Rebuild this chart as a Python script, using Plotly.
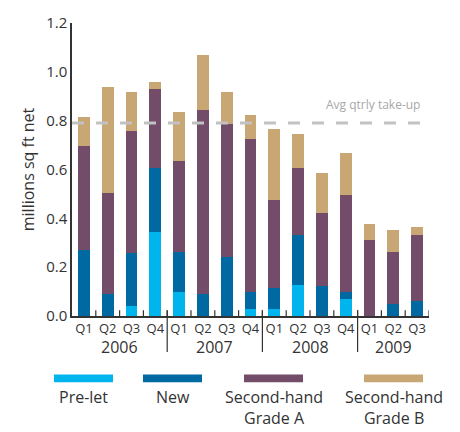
import plotly.graph_objects as go

# ---- data ----
years = ["2006", "2007", "2008", "2009"]
quarters_per_year = [4, 4, 4, 3]
quarter_labels = ["Q1", "Q2", "Q3", "Q4", "Q1", "Q2", "Q3", "Q4",
                  "Q1", "Q2", "Q3", "Q4", "Q1", "Q2", "Q3"]
pre_let = [0.0, 0.0, 0.041, 0.343, 0.100, 0.0, 0.0, 0.029,
           0.029, 0.128, 0.0, 0.068, 0.0, 0.0, 0.0]
new = [0.272, 0.089, 0.218, 0.264, 0.164, 0.089, 0.241, 0.071,
       0.084, 0.203, 0.121, 0.032, 0.0, 0.049, 0.060]
grade_a = [0.426, 0.413, 0.499, 0.322, 0.370, 0.756, 0.544, 0.626,
           0.361, 0.275, 0.302, 0.394, 0.311, 0.214, 0.271]
grade_b = [0.119, 0.435, 0.159, 0.028, 0.203, 0.224, 0.132, 0.099,
           0.292, 0.140, 0.163, 0.172, 0.064, 0.088, 0.032]
avg_takeup = 0.79
series_names = ["Pre-let", "New", "Second-hand<br>Grade A", "Second-hand<br>Grade B"]
y_ticks = [0.0, 0.2, 0.4, 0.6, 0.8, 1.0, 1.2]

colors = ["#00B4EE", "#0069A2", "#734C69", "#C8A774"]
FONT = "Open Sans"
TXT = "#333333"

W, H = 460, 432
# plot area in screenshot pixels
X0, X1, Y0, Y1 = 72, 429, 15, 316
L, R, T, B = X0, W - X1, Y0, H - Y1
PW, PH = X1 - X0, Y1 - Y0


def px(xpx):
    return (xpx - X0) / PW


def py(ypx):
    return (Y1 - ypx) / PH


xs = list(range(len(quarter_labels)))
fig = go.Figure()
for name, vals, col in zip(series_names, [pre_let, new, grade_a, grade_b], colors):
    fig.add_trace(go.Bar(x=xs, y=vals, name=name, marker_color=col,
                         marker_line_width=0, width=0.5, showlegend=False))

shapes = []
shapes.append(dict(type="line", xref="paper", yref="y", x0=0, x1=1,
                   y0=avg_takeup, y1=avg_takeup, layer="above",
                   line=dict(color="#C2C2C2", width=3, dash="12px,12px")))
for i in xs:
    shapes.append(dict(type="line", xref="x", yref="paper", x0=i + 0.5, x1=i + 0.5,
                       y0=0, y1=6 / PH, line=dict(color=TXT, width=1.2)))
annotations = []
start = 0
for k, (yr, n) in enumerate(zip(years, quarters_per_year)):
    center = start + (n - 1) / 2
    annotations.append(dict(x=center, y=py(348), xref="x", yref="paper",
                            text=yr, showarrow=False, yanchor="middle",
                            font=dict(size=16, color=TXT, family=FONT)))
    if k < len(years) - 1:
        sep = start + n - 0.5
        shapes.append(dict(type="line", xref="x", yref="paper", x0=sep, x1=sep,
                           y0=6 / PH, y1=py(353), line=dict(color=TXT, width=1.2)))
    start += n

annotations.append(dict(x=px(422), y=py(99), xref="paper", yref="paper",
                        text="Avg qtrly take-up", showarrow=False,
                        xanchor="right", yanchor="middle",
                        font=dict(size=12, color="#A8A8A8", family=FONT)))

sw = [(54, 113), (143, 202), (244, 303), (364, 423)]
for (a, b), col, name in zip(sw, colors, series_names):
    shapes.append(dict(type="rect", xref="paper", yref="paper",
                       x0=px(a), x1=px(b), y0=py(384), y1=py(376),
                       fillcolor=col, line=dict(width=0)))
    annotations.append(dict(x=px((a + b) / 2), y=py(386), xref="paper", yref="paper",
                            text=name, showarrow=False, xanchor="center", yanchor="top",
                            align="center",
                            font=dict(size=16, color=TXT, family=FONT)))

fig.update_layout(
    width=W, height=H,
    margin=dict(l=L, r=R, t=T, b=B, pad=0),
    barmode="stack",
    plot_bgcolor="white", paper_bgcolor="white",
    font=dict(family=FONT, color=TXT),
    shapes=shapes, annotations=annotations,
    xaxis=dict(range=[-0.5, len(xs) - 0.5], tickvals=xs, ticktext=quarter_labels,
               ticks="", showgrid=False, zeroline=False, showline=True,
               linecolor=TXT, linewidth=1.5, tickfont=dict(size=13, color=TXT, family=FONT),
               fixedrange=True),
    yaxis=dict(range=[0, 1.2], tickvals=y_ticks, tickformat=".1f", ticks="",
               showgrid=False, zeroline=False, showline=True, linecolor=TXT,
               linewidth=1.5, tickfont=dict(size=15, color=TXT, family=FONT),
               title=dict(text="millions sq ft net", font=dict(size=16, color=TXT, family=FONT),
                          standoff=8),
               fixedrange=True),
)

fig.write_html("out.html", config={"displayModeBar": False},
               post_script="document.body.style.margin='0';document.body.style.padding='0';")
